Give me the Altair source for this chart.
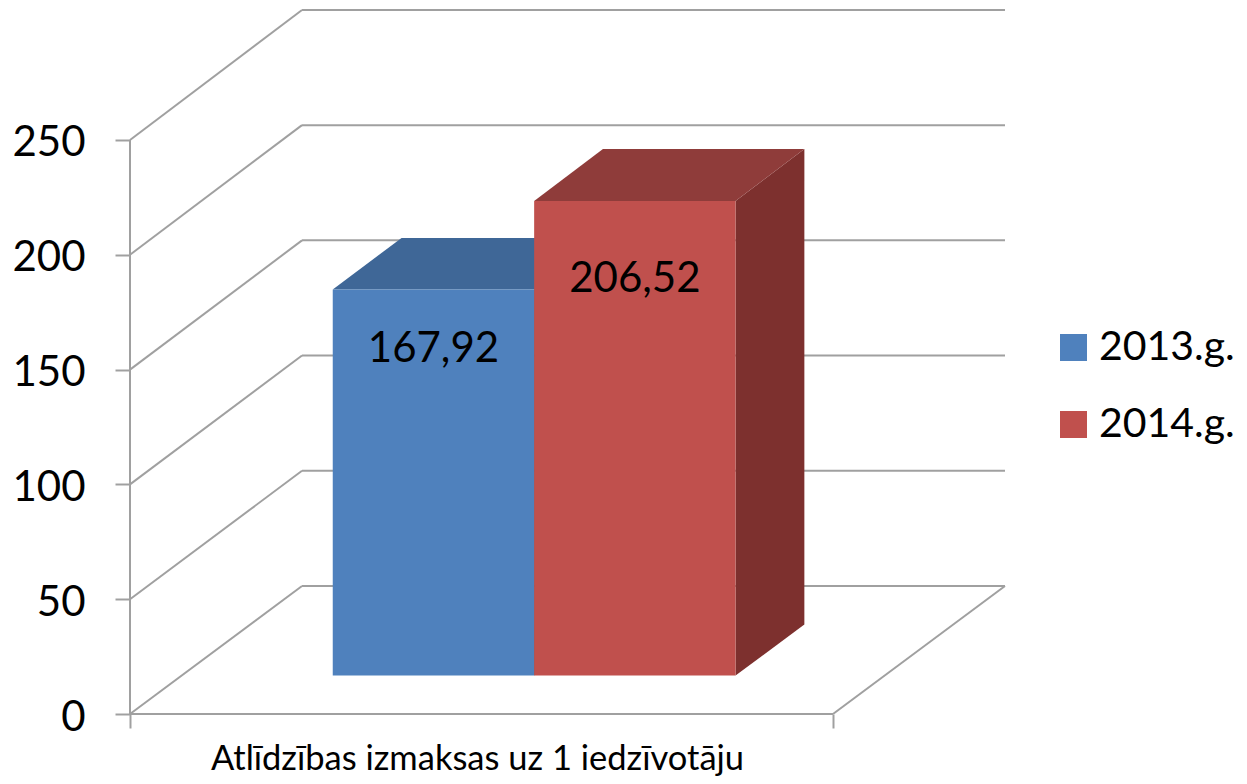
import altair as alt
import pandas as pd

# Data
series = ["2013.g.", "2014.g."]
values = [167.92, 206.52]
value_labels = ["167,92", "206,52"]
label_levels = [142.2, 172.5]      # height of the value labels, in axis units
colors_front = ["#4f81bd", "#c0504d"]
colors_top = ["#3f6797", "#8f3c3a"]
colors_side = ["#345578", "#7d302e"]
y_ticks = [0, 50, 100, 150, 200, 250]
category = "Atlīdzības izmaksas uz 1 iedzīvotāju"

# Oblique projection parameters, in axis units
DEPTH_X = 24.47        # x shift of the full depth (category width = 100)
DEPTH_Y = 55.75        # value shift of the full depth
DEPTH_GROW = 0.0035    # slight perspective of the value scale with depth
Z_FRONT, Z_BACK = 0.3, 0.7
GAP = 21.5
BAR_W = 28.65
X_MAX = 100 + DEPTH_X
Y_MAX = 306.6
GRID = "#a0a0a0"

x_scale = alt.Scale(domain=[0, X_MAX], nice=False, zero=False)
y_scale = alt.Scale(domain=[0, Y_MAX], nice=False, zero=False)
X_MAIN = alt.X("x:Q", scale=x_scale, title=category,
               axis=alt.Axis(values=[0, 100], labels=False, grid=False, domain=False,
                             tickColor=GRID, tickSize=14, tickWidth=2,
                             titleFont="Lato", titleFontSize=34.5, titleFontWeight="normal",
                             titleColor="#000000", titleX=347, titleY=55,
                             titleBaseline="alphabetic"))
Y_MAIN = alt.Y("y:Q", scale=y_scale, title=None,
               axis=alt.Axis(values=y_ticks, grid=False, domain=False, tickColor=GRID,
                             tickSize=15, tickWidth=2, labelFont="Lato", labelFontSize=42,
                             labelColor="#000000", labelPadding=30, labelBaseline="middle",
                             labelOffset=3))


def proj(x, v, z):
    return x + z * DEPTH_X, v * (1 + DEPTH_GROW * z) + z * DEPTH_Y


# Walls and floor lines
lines = []
for t in y_ticks:
    x0, y0 = proj(0, t, 0)
    x1, y1 = proj(0, t, 1)
    x2, y2 = proj(100, t, 1)
    lines.append(dict(x=x0, y=y0, x2=x1, y2=y1))
    lines.append(dict(x=x1, y=y1, x2=x2, y2=y2))
lines.append(dict(x=0, y=0, x2=0, y2=250))
x0, y0 = proj(100, 0, 0)
x1, y1 = proj(100, 0, 1)
lines.append(dict(x=0, y=0, x2=100, y2=0))
lines.append(dict(x=x0, y=y0, x2=x1, y2=y1))
grid_layer = alt.Chart(pd.DataFrame(lines)).mark_rule(color=GRID, strokeWidth=2).encode(
    x=X_MAIN, x2="x2:Q", y=Y_MAIN, y2="y2:Q")

# Bars
front, tops, sides = [], [], []
for i, (name, v) in enumerate(zip(series, values)):
    left = GAP + i * BAR_W
    right = left + BAR_W
    fx0, fb = proj(left, 0, Z_FRONT)
    fx1, ft = proj(right, v, Z_FRONT)
    front.append(dict(s=name, x=fx0, x2=fx1, y=fb, y2=ft, i=i))
    for z in (Z_FRONT, Z_BACK):
        xa, ya = proj(left, v, z)
        xb, _ = proj(right, v, z)
        tops.append(dict(s=name, x=xa, x2=xb, y=ya, c=colors_top[i]))
        xs, ybot = proj(right, 0, z)
        _, ytop = proj(right, v, z)
        sides.append(dict(s=name, x=xs, y=ybot, y2=ytop, c=colors_side[i]))

layers = [grid_layer]
for i, name in enumerate(series):
    side_df = pd.DataFrame([r for r in sides if r["s"] == name])
    top_df = pd.DataFrame([r for r in tops if r["s"] == name])
    front_df = pd.DataFrame([r for r in front if r["s"] == name])
    layers.append(alt.Chart(side_df).mark_area(orient="vertical", color=colors_side[i]).encode(
        x=X_MAIN, y=Y_MAIN, y2="y2:Q"))
    layers.append(alt.Chart(top_df).mark_area(orient="horizontal", color=colors_top[i]).encode(
        y=Y_MAIN, x=X_MAIN, x2="x2:Q"))
    layers.append(alt.Chart(front_df).mark_rect().encode(
        x=X_MAIN, x2="x2:Q", y=Y_MAIN, y2="y2:Q",
        color=alt.Color("s:N", scale=alt.Scale(domain=series, range=colors_front), title=None,
                        legend=alt.Legend(orient="none", legendX=923, legendY=317, symbolType="square",
                                          symbolSize=729, symbolStrokeWidth=0, symbolOpacity=1,
                                          labelFont="Lato", labelFontSize=41, labelColor="#000000",
                                          labelOffset=5, rowPadding=35, labelLimit=300, padding=0))))

# Value labels
label_rows = []
for i, (txt, lv) in enumerate(zip(value_labels, label_levels)):
    xc, yc = proj(GAP + (i + 0.5) * BAR_W, lv, Z_FRONT)
    label_rows.append(dict(x=xc, y=yc, t=txt))
layers.append(alt.Chart(pd.DataFrame(label_rows)).mark_text(
    font="Lato", fontSize=42, color="#000000", baseline="middle", align="center").encode(
    x=X_MAIN, y=Y_MAIN, text="t:N"))

chart = alt.layer(*layers).properties(
    width=875, height=704,
    padding={"left": 122, "top": 2, "right": 234, "bottom": 62},
    autosize=alt.AutoSizeParams(type="none"),
    background="#ffffff",
).configure_view(stroke=None)

chart.save("out.html", embed_options={"renderer": "svg", "actions": False})
